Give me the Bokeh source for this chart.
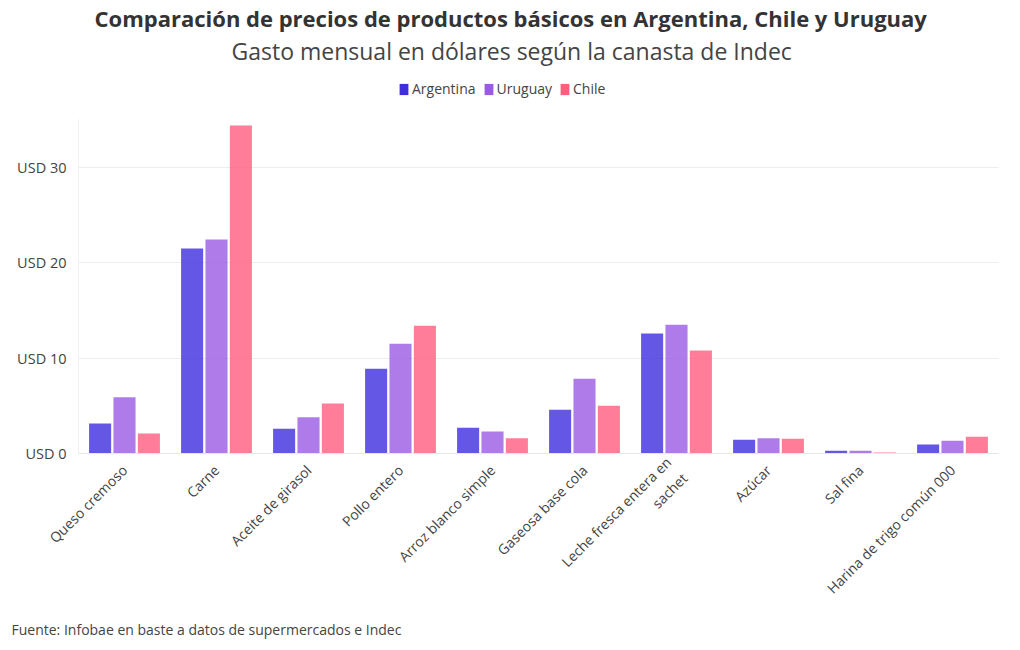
import math
from bokeh.plotting import figure
from bokeh.models import (ColumnDataSource, FactorRange, FixedTicker, PrintfTickFormatter,
                          Legend, LegendItem, Title, Range1d)
from bokeh.transform import dodge
from bokeh.embed import file_html
from bokeh.resources import INLINE

categories = ["Queso cremoso", "Carne", "Aceite de girasol", "Pollo entero",
              "Arroz blanco simple", "Gaseosa base cola", "Leche fresca entera en\nsachet",
              "Azúcar", "Sal fina", "Harina de trigo común 000"]
argentina = [3.15, 21.5, 2.6, 8.9, 2.7, 4.6, 12.6, 1.45, 0.3, 0.95]
uruguay = [5.9, 22.45, 3.8, 11.5, 2.3, 7.85, 13.5, 1.6, 0.3, 1.35]
chile = [2.1, 34.4, 5.25, 13.4, 1.6, 5.0, 10.8, 1.55, 0.1, 1.75]
y_ticks = [0, 10, 20, 30]
y_max = 35.1

FONT = "Open Sans"
TXT = "#444444"
C_ARG, C_URU, C_CHI = "#3f2ddf", "#9a5ae4", "#ff5d7e"

src = ColumnDataSource(dict(cat=categories, arg=argentina, uru=uruguay, chi=chile))

# frame extends above the data area to host the legend
p = figure(x_range=FactorRange(*categories, range_padding=0), y_range=Range1d(0, 39.65),
           width=1004, height=648, output_backend="svg", toolbar_location=None,
           min_border_left=78, min_border_right=6, min_border_bottom=0, min_border_top=75)

w = 0.24
p.vbar(x=dodge("cat", -0.265, range=p.x_range), top="arg", width=w, source=src,
       fill_color=C_ARG, fill_alpha=0.8, line_color=None)
p.vbar(x=dodge("cat", 0.0, range=p.x_range), top="uru", width=w, source=src,
       fill_color=C_URU, fill_alpha=0.8, line_color=None)
p.vbar(x=dodge("cat", 0.265, range=p.x_range), top="chi", width=w, source=src,
       fill_color=C_CHI, fill_alpha=0.8, line_color=None)

# left axis line limited to the data area
p.segment(x0=[0], y0=[0], x1=[0], y1=[y_max], line_color="#e6e6e6", line_width=1)

# legend swatches (full colour, zero-height proxies)
proxy = dict(x=[categories[0]], top=[0], bottom=[0], width=w, line_color=None)
l1 = p.vbar(fill_color=C_ARG, **proxy)
l2 = p.vbar(fill_color=C_URU, **proxy)
l3 = p.vbar(fill_color=C_CHI, **proxy)

p.yaxis.ticker = FixedTicker(ticks=y_ticks)
p.yaxis.formatter = PrintfTickFormatter(format="USD %d")
p.yaxis.major_tick_line_color = None
p.yaxis.minor_tick_line_color = None
p.yaxis.axis_line_color = None
p.yaxis.major_label_text_font = FONT
p.yaxis.major_label_text_font_size = "14.5px"
p.yaxis.major_label_text_color = TXT
p.yaxis.major_label_standoff = 6

p.xaxis.major_tick_line_color = None
p.xaxis.axis_line_color = "#e6e6e6"
p.xaxis.major_label_orientation = math.pi / 4
p.xaxis.major_label_text_font = FONT
p.xaxis.major_label_text_font_size = "14px"
p.xaxis.major_label_text_color = TXT
p.xaxis.major_label_standoff = 8

p.xgrid.grid_line_color = None
p.ygrid.grid_line_color = "#eeeeee"
p.outline_line_color = None

legend = Legend(items=[LegendItem(label="Argentina", renderers=[l1]),
                       LegendItem(label="Uruguay", renderers=[l2]),
                       LegendItem(label="Chile", renderers=[l3])],
                orientation="horizontal", location=(320, 355),
                label_text_font=FONT, label_text_font_size="14px", label_text_color=TXT,
                glyph_width=11, glyph_height=14, label_standoff=3, spacing=7,
                border_line_color=None, background_fill_alpha=0, padding=0, margin=0)
p.add_layout(legend, "center")

p.add_layout(Title(text="Gasto mensual en dólares según la canasta de Indec", align="left",
                   offset=153, text_font=FONT, text_font_size="23px", text_font_style="normal",
                   text_color=TXT, standoff=18), "above")
p.add_layout(Title(text="Comparación de precios de productos básicos en Argentina, Chile y Uruguay",
                   align="left", offset=16, text_font=FONT, text_font_size="22px",
                   text_font_style="bold", text_color="#333333", standoff=-19), "above")

p.add_layout(Title(text="Fuente: Infobae en baste a datos de supermercados e Indec", align="left",
                   offset=-67, text_font=FONT, text_font_size="14px", text_font_style="normal",
                   text_color=TXT, standoff=20), "below")

open("out.html", "w").write(file_html(p, INLINE))
